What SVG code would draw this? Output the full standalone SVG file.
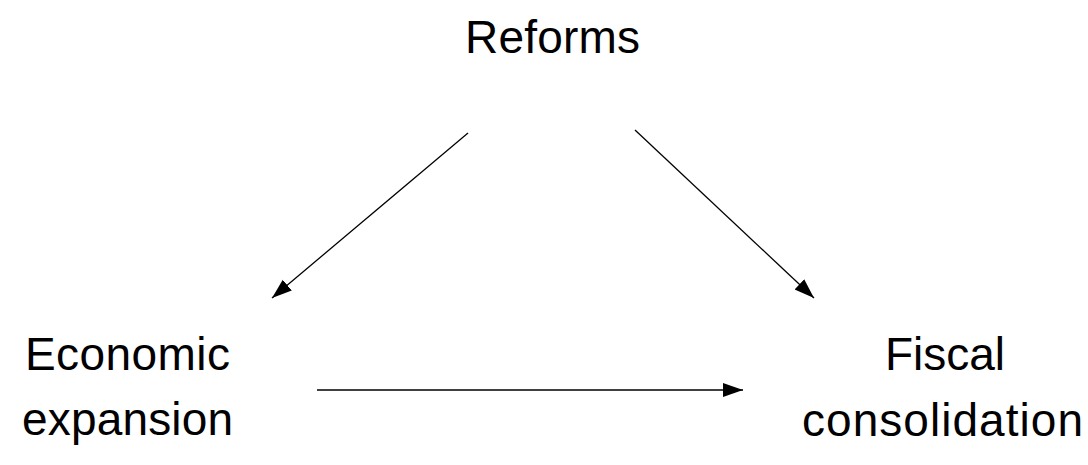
<svg xmlns="http://www.w3.org/2000/svg" width="1088" height="465" viewBox="0 0 1088 465">
<style>
text{font-family:"Liberation Sans",Arial,sans-serif;font-size:46px;fill:#000}
.c{stroke:#000;stroke-width:1.3;fill:none}
</style>
<defs>
<marker id="ah" markerUnits="userSpaceOnUse" markerWidth="22" markerHeight="16" refX="20" refY="7" orient="auto">
<path d="M0,0 L20,7 L0,14 Z" fill="#000"/>
</marker>
</defs>
<rect width="1088" height="465" fill="#fff"/>
<g id="reforms"><text x="465" y="53" textLength="175" lengthAdjust="spacing">Reforms</text></g>
<g id="economic"><text x="25" y="370" textLength="205" lengthAdjust="spacing">Economic</text><text x="22" y="435" textLength="211" lengthAdjust="spacing">expansion</text></g>
<g id="fiscal"><text x="885" y="370" textLength="120" lengthAdjust="spacing">Fiscal</text><text x="802" y="436" textLength="281" lengthAdjust="spacing">consolidation</text></g>
<g id="connectors">
<line class="c" x1="468" y1="133" x2="272" y2="298" marker-end="url(#ah)"/>
<line class="c" x1="635" y1="130" x2="814" y2="298" marker-end="url(#ah)"/>
<line class="c" x1="317" y1="390" x2="743" y2="390" marker-end="url(#ah)"/>
</g>
</svg>
